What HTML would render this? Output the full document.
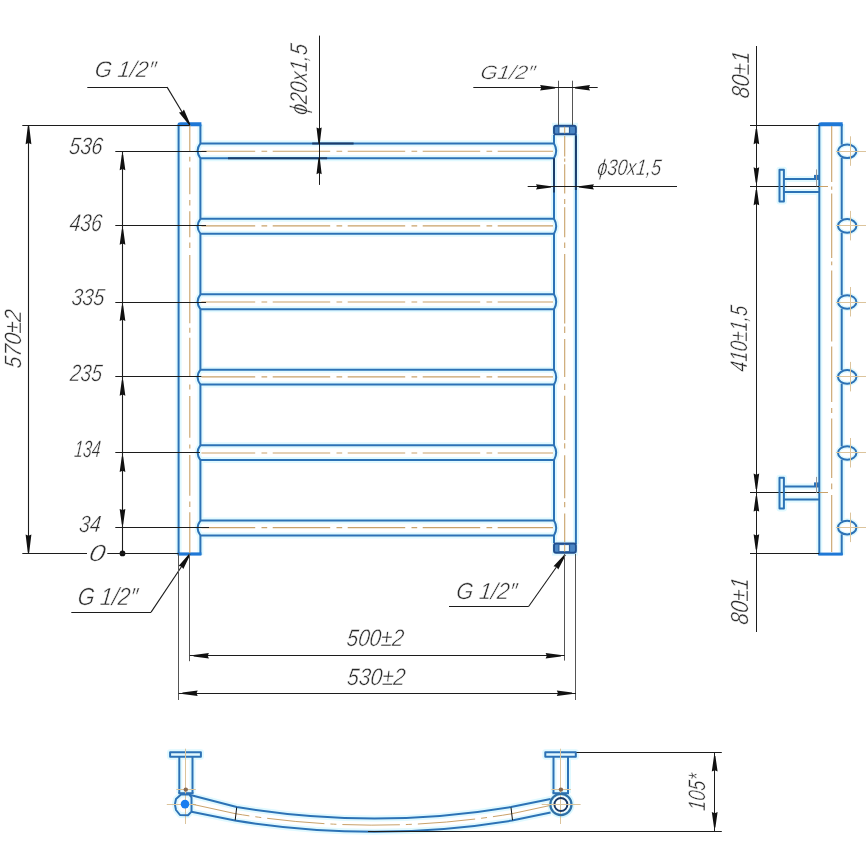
<!DOCTYPE html>
<html><head><meta charset="utf-8"><style>html,body{margin:0;padding:0;background:#fff;width:868px;height:868px;overflow:hidden}svg{display:block;will-change:transform}</style></head>
<body><svg width="868" height="868" viewBox="0 0 868 868" font-family="'Liberation Sans', sans-serif" font-style="italic" fill="#2a2a2a">
<rect width="868" height="868" fill="#ffffff"/>
<g><line x1="178.60" y1="124.50" x2="178.60" y2="555.00" stroke="#e0f9ff" stroke-width="6.0"/><path d="M200.4,124.5 L200.4,143.40 Q194.8,150.85 200.4,158.30 L200.4,218.84 Q194.8,226.29 200.4,233.74 L200.4,294.28 Q194.8,301.73 200.4,309.18 L200.4,369.72 Q194.8,377.17 200.4,384.62 L200.4,445.16 Q194.8,452.61 200.4,460.06 L200.4,520.60 Q194.8,528.05 200.4,535.50 L200.4,555" stroke="#e0f9ff" stroke-width="6.0" fill="none" stroke-linejoin="round"/><path d="M554.0,135 L554.0,143.40 Q558.4,150.85 554.0,158.30 L554.0,218.84 Q558.4,226.29 554.0,233.74 L554.0,294.28 Q558.4,301.73 554.0,309.18 L554.0,369.72 Q558.4,377.17 554.0,384.62 L554.0,445.16 Q558.4,452.61 554.0,460.06 L554.0,520.60 Q558.4,528.05 554.0,535.50 L554.0,543" stroke="#e0f9ff" stroke-width="6.0" fill="none" stroke-linejoin="round"/><line x1="575.90" y1="134.00" x2="575.90" y2="544.00" stroke="#e0f9ff" stroke-width="6.0"/><rect x="552.0" y="122.8" width="25.899999999999977" height="14.500000000000014" fill="#e0f9ff"/><rect x="552.0" y="540.6" width="25.899999999999977" height="15.0" fill="#e0f9ff"/><line x1="200.40" y1="143.40" x2="554.00" y2="143.40" stroke="#e0f9ff" stroke-width="6.0"/><line x1="200.40" y1="158.30" x2="554.00" y2="158.30" stroke="#e0f9ff" stroke-width="6.0"/><line x1="200.40" y1="218.84" x2="554.00" y2="218.84" stroke="#e0f9ff" stroke-width="6.0"/><line x1="200.40" y1="233.74" x2="554.00" y2="233.74" stroke="#e0f9ff" stroke-width="6.0"/><line x1="200.40" y1="294.28" x2="554.00" y2="294.28" stroke="#e0f9ff" stroke-width="6.0"/><line x1="200.40" y1="309.18" x2="554.00" y2="309.18" stroke="#e0f9ff" stroke-width="6.0"/><line x1="200.40" y1="369.72" x2="554.00" y2="369.72" stroke="#e0f9ff" stroke-width="6.0"/><line x1="200.40" y1="384.62" x2="554.00" y2="384.62" stroke="#e0f9ff" stroke-width="6.0"/><line x1="200.40" y1="445.16" x2="554.00" y2="445.16" stroke="#e0f9ff" stroke-width="6.0"/><line x1="200.40" y1="460.06" x2="554.00" y2="460.06" stroke="#e0f9ff" stroke-width="6.0"/><line x1="200.40" y1="520.60" x2="554.00" y2="520.60" stroke="#e0f9ff" stroke-width="6.0"/><line x1="200.40" y1="535.50" x2="554.00" y2="535.50" stroke="#e0f9ff" stroke-width="6.0"/><line x1="819.30" y1="124.00" x2="819.30" y2="555.00" stroke="#e0f9ff" stroke-width="6.0"/><path d="M841.7,124 L841.7,144.70 M841.7,157.90 L841.7,219.30 M841.7,232.50 L841.7,295.40 M841.7,308.60 L841.7,370.30 M841.7,383.50 L841.7,446.40 M841.7,459.60 L841.7,521.00 M841.7,534.20 L841.7,555" stroke="#e0f9ff" stroke-width="6.0" fill="none" stroke-linejoin="round"/><ellipse cx="847.2" cy="151.3" rx="9.2" ry="6.8" stroke="#e0f9ff" stroke-width="5" fill="none"/><ellipse cx="847.2" cy="225.9" rx="9.2" ry="6.8" stroke="#e0f9ff" stroke-width="5" fill="none"/><ellipse cx="847.2" cy="302.0" rx="9.2" ry="6.8" stroke="#e0f9ff" stroke-width="5" fill="none"/><ellipse cx="847.2" cy="376.9" rx="9.2" ry="6.8" stroke="#e0f9ff" stroke-width="5" fill="none"/><ellipse cx="847.2" cy="453.0" rx="9.2" ry="6.8" stroke="#e0f9ff" stroke-width="5" fill="none"/><ellipse cx="847.2" cy="527.6" rx="9.2" ry="6.8" stroke="#e0f9ff" stroke-width="5" fill="none"/><path d="M779.5,169.7 L783.9,169.7 L783.9,201.6 L779.5,201.6Z" stroke="#e0f9ff" stroke-width="6.0" fill="none" stroke-linejoin="round"/><line x1="783.90" y1="178.90" x2="819.30" y2="178.90" stroke="#e0f9ff" stroke-width="6.0"/><line x1="783.90" y1="192.00" x2="819.30" y2="192.00" stroke="#e0f9ff" stroke-width="6.0"/><path d="M779.5,477.7 L783.9,477.7 L783.9,508.6 L779.5,508.6Z" stroke="#e0f9ff" stroke-width="6.0" fill="none" stroke-linejoin="round"/><line x1="783.90" y1="486.40" x2="819.30" y2="486.40" stroke="#e0f9ff" stroke-width="6.0"/><line x1="783.90" y1="499.40" x2="819.30" y2="499.40" stroke="#e0f9ff" stroke-width="6.0"/><path d="M170.1,752.2 L200.9,752.2 L200.9,756.8 L170.1,756.8Z" stroke="#e0f9ff" stroke-width="6.0" fill="none" stroke-linejoin="round"/><line x1="179.30" y1="756.80" x2="179.30" y2="793.20" stroke="#e0f9ff" stroke-width="6.0"/><line x1="192.50" y1="756.80" x2="192.50" y2="793.20" stroke="#e0f9ff" stroke-width="6.0"/><line x1="178.30" y1="793.20" x2="193.50" y2="793.20" stroke="#e0f9ff" stroke-width="6.0"/><path d="M545.3,752.2 L575.8,752.2 L575.8,756.8 L545.3,756.8Z" stroke="#e0f9ff" stroke-width="6.0" fill="none" stroke-linejoin="round"/><line x1="553.50" y1="756.80" x2="553.50" y2="793.20" stroke="#e0f9ff" stroke-width="6.0"/><line x1="568.00" y1="756.80" x2="568.00" y2="793.20" stroke="#e0f9ff" stroke-width="6.0"/><line x1="552.50" y1="793.20" x2="569.00" y2="793.20" stroke="#e0f9ff" stroke-width="6.0"/><path d="M189.4,794.6 L181,794.6 L176,799 L174.9,804.4 L176,810 L180,815 L188,815.3 L191.5,811.6 L191.5,797.5 Z" stroke="#e0f9ff" stroke-width="6.0" fill="none" stroke-linejoin="round"/><circle cx="560.9" cy="804.5" r="11" stroke="#d9f7ff" stroke-width="5" fill="none"/><path d="M189.4,794.8 L236.7,807 Q375,830 511,807 L550.6,799" stroke="#e0f9ff" stroke-width="6.0" fill="none" stroke-linejoin="round"/><path d="M191.5,811.8 L235,820.6 Q375,843 512,820.6 L550.6,812.6" stroke="#e0f9ff" stroke-width="6.0" fill="none" stroke-linejoin="round"/></g>
<g><line x1="178.60" y1="124.50" x2="178.60" y2="555.00" stroke="#2c72b6" stroke-width="2.0"/><path d="M200.4,124.5 L200.4,143.40 Q194.8,150.85 200.4,158.30 L200.4,218.84 Q194.8,226.29 200.4,233.74 L200.4,294.28 Q194.8,301.73 200.4,309.18 L200.4,369.72 Q194.8,377.17 200.4,384.62 L200.4,445.16 Q194.8,452.61 200.4,460.06 L200.4,520.60 Q194.8,528.05 200.4,535.50 L200.4,555" stroke="#2c72b6" stroke-width="2.0" fill="none" stroke-linejoin="round"/><path d="M177.6,127 L177.6,124.5 Q177.6,122.3 180.6,122.3 L201.4,122.3 L201.4,126.2 L177.6,126.2Z" fill="#1f78d6"/><rect x="177.6" y="552.4" width="23.80000000000001" height="3.2" fill="#1f78d6"/><path d="M189.8,125 V152 M189.8,167.6 V194.2 M189.8,211.3 V237.3 M189.8,255 V323.2 M189.8,337.7 V377 M189.8,395.9 V437.7 M189.8,455.1 V495.7 M189.8,512.2 V553 M189.8,156.8 V161.6 M189.8,200 V205.6 M189.8,242.4 V248.1 M189.8,327.7 V332.7 M189.8,384.5 V389.6 M189.8,444.4 V448.4 M189.8,501.4 V507.1" stroke="#c9a26a" stroke-width="1.1" fill="none"/><path d="M554.0,135 L554.0,143.40 Q558.4,150.85 554.0,158.30 L554.0,218.84 Q558.4,226.29 554.0,233.74 L554.0,294.28 Q558.4,301.73 554.0,309.18 L554.0,369.72 Q558.4,377.17 554.0,384.62 L554.0,445.16 Q558.4,452.61 554.0,460.06 L554.0,520.60 Q558.4,528.05 554.0,535.50 L554.0,543" stroke="#2c72b6" stroke-width="2.0" fill="none" stroke-linejoin="round"/><line x1="575.90" y1="134.00" x2="575.90" y2="544.00" stroke="#2c72b6" stroke-width="2.0"/><path d="M564.7,136 V156.6 M564.7,158.5 V161.7 M564.7,164.2 V193.4 M564.7,199 V204 M564.7,207.3 V237.3 M564.7,242.4 V248.1 M564.7,254 V323.5 M564.7,326.5 V333 M564.7,339 V377 M564.7,383.7 V390 M564.7,395.8 V440 M564.7,443.3 V448.4 M564.7,455.2 V498.3 M564.7,502.1 V507.2 M564.7,513.5 V542" stroke="#c9a26a" stroke-width="1.1" fill="none"/><rect x="554.0" y="125.7" width="21.899999999999977" height="8.700000000000014" rx="2" fill="#4a86c4" stroke="#1f4f8f" stroke-width="1.9"/><rect x="558.9" y="126.7" width="10.6" height="6.700000000000014" fill="#f2fdff" stroke="#2a5f9f" stroke-width="1.2"/><line x1="564.7" y1="126.7" x2="564.7" y2="133.4" stroke="#c9a26a" stroke-width="1"/><rect x="554.0" y="543.5" width="21.899999999999977" height="9.2" rx="2" fill="#4a86c4" stroke="#1f4f8f" stroke-width="1.9"/><rect x="558.9" y="544.5" width="10.6" height="7.2" fill="#f2fdff" stroke="#2a5f9f" stroke-width="1.2"/><line x1="564.7" y1="544.5" x2="564.7" y2="551.7" stroke="#c9a26a" stroke-width="1"/><line x1="200.40" y1="143.40" x2="554.00" y2="143.40" stroke="#2c72b6" stroke-width="2.0"/><line x1="200.40" y1="158.30" x2="554.00" y2="158.30" stroke="#2c72b6" stroke-width="2.0"/><line x1="201.40" y1="151.30" x2="553.00" y2="151.30" stroke="#c9a26a" stroke-width="1.1" stroke-dasharray="57.5 6.3 5.7 5.5" stroke-dashoffset="3.70"/><line x1="200.40" y1="218.84" x2="554.00" y2="218.84" stroke="#2c72b6" stroke-width="2.0"/><line x1="200.40" y1="233.74" x2="554.00" y2="233.74" stroke="#2c72b6" stroke-width="2.0"/><line x1="201.40" y1="225.90" x2="553.00" y2="225.90" stroke="#c9a26a" stroke-width="1.1" stroke-dasharray="57.5 6.3 5.7 5.5" stroke-dashoffset="3.70"/><line x1="200.40" y1="294.28" x2="554.00" y2="294.28" stroke="#2c72b6" stroke-width="2.0"/><line x1="200.40" y1="309.18" x2="554.00" y2="309.18" stroke="#2c72b6" stroke-width="2.0"/><line x1="201.40" y1="302.00" x2="553.00" y2="302.00" stroke="#c9a26a" stroke-width="1.1" stroke-dasharray="57.5 6.3 5.7 5.5" stroke-dashoffset="3.70"/><line x1="200.40" y1="369.72" x2="554.00" y2="369.72" stroke="#2c72b6" stroke-width="2.0"/><line x1="200.40" y1="384.62" x2="554.00" y2="384.62" stroke="#2c72b6" stroke-width="2.0"/><line x1="201.40" y1="376.90" x2="553.00" y2="376.90" stroke="#c9a26a" stroke-width="1.1" stroke-dasharray="57.5 6.3 5.7 5.5" stroke-dashoffset="3.70"/><line x1="200.40" y1="445.16" x2="554.00" y2="445.16" stroke="#2c72b6" stroke-width="2.0"/><line x1="200.40" y1="460.06" x2="554.00" y2="460.06" stroke="#2c72b6" stroke-width="2.0"/><line x1="201.40" y1="453.00" x2="553.00" y2="453.00" stroke="#c9a26a" stroke-width="1.1" stroke-dasharray="57.5 6.3 5.7 5.5" stroke-dashoffset="3.70"/><line x1="200.40" y1="520.60" x2="554.00" y2="520.60" stroke="#2c72b6" stroke-width="2.0"/><line x1="200.40" y1="535.50" x2="554.00" y2="535.50" stroke="#2c72b6" stroke-width="2.0"/><line x1="201.40" y1="527.60" x2="553.00" y2="527.60" stroke="#c9a26a" stroke-width="1.1" stroke-dasharray="57.5 6.3 5.7 5.5" stroke-dashoffset="3.70"/><line x1="312.20" y1="143.40" x2="353.60" y2="143.40" stroke="#1a3d6b" stroke-width="2.0" /><line x1="228.00" y1="158.30" x2="327.10" y2="158.30" stroke="#1a3d6b" stroke-width="2.0" /><line x1="554.00" y1="158.30" x2="554.00" y2="192.60" stroke="#1a3d6b" stroke-width="2.0" /><line x1="575.90" y1="135.50" x2="575.90" y2="190.00" stroke="#1a3d6b" stroke-width="2.0" /><line x1="122.50" y1="151.30" x2="122.50" y2="553.40" stroke="#1c1c1c" stroke-width="1.1" /><line x1="115.30" y1="151.50" x2="206.50" y2="151.50" stroke="#1c1c1c" stroke-width="1.0" /><line x1="115.30" y1="225.50" x2="206.00" y2="225.50" stroke="#1c1c1c" stroke-width="1.0" /><line x1="115.30" y1="302.50" x2="206.00" y2="302.50" stroke="#1c1c1c" stroke-width="1.0" /><line x1="115.30" y1="376.50" x2="201.40" y2="376.50" stroke="#1c1c1c" stroke-width="1.0" /><line x1="115.30" y1="452.50" x2="200.00" y2="452.50" stroke="#1c1c1c" stroke-width="1.0" /><line x1="115.30" y1="527.50" x2="209.00" y2="527.50" stroke="#1c1c1c" stroke-width="1.0" /><polygon points="123.20,154.70 125.35,170.20 122.50,169.00 119.65,170.20 121.80,154.70" fill="#111"/><polygon points="123.20,229.30 125.35,244.80 122.50,243.60 119.65,244.80 121.80,229.30" fill="#111"/><polygon points="123.20,305.40 125.35,320.90 122.50,319.70 119.65,320.90 121.80,305.40" fill="#111"/><polygon points="123.20,380.30 125.35,395.80 122.50,394.60 119.65,395.80 121.80,380.30" fill="#111"/><polygon points="123.20,456.40 125.35,471.90 122.50,470.70 119.65,471.90 121.80,456.40" fill="#111"/><polygon points="121.80,524.40 119.65,508.90 122.50,510.10 125.35,508.90 123.20,524.40" fill="#111"/><circle cx="122.5" cy="553.4" r="2.9" fill="#111"/><line x1="22.30" y1="553.50" x2="87.00" y2="553.50" stroke="#1c1c1c" stroke-width="1.1" /><line x1="107.30" y1="553.50" x2="178.60" y2="553.50" stroke="#1c1c1c" stroke-width="1.1" /><line x1="22.30" y1="125.50" x2="189.80" y2="125.50" stroke="#1c1c1c" stroke-width="1.1" /><line x1="28.50" y1="125.40" x2="28.50" y2="553.40" stroke="#1c1c1c" stroke-width="1.1" /><polygon points="29.20,126.20 31.40,144.20 28.50,143.00 25.60,144.20 27.80,126.20" fill="#111"/><polygon points="27.80,552.60 25.60,534.60 28.50,535.80 31.40,534.60 29.20,552.60" fill="#111"/><text transform="translate(68.60,154.25) scale(0.846,1) skewX(-8)" font-size="23.57" stroke="#fff" stroke-width="0.45">536</text><text transform="translate(69.01,230.55) scale(0.792,1) skewX(-8)" font-size="24.29" stroke="#fff" stroke-width="0.45">436</text><text transform="translate(70.91,305.30) scale(0.844,1) skewX(-8)" font-size="23.29" stroke="#fff" stroke-width="0.45">335</text><text transform="translate(69.50,380.62) scale(0.807,1) skewX(-8)" font-size="23.57" stroke="#fff" stroke-width="0.45">235</text><text transform="translate(73.78,456.75) scale(0.666,1) skewX(-8)" font-size="23.57" stroke="#fff" stroke-width="0.45">134</text><text transform="translate(78.51,531.60) scale(0.833,1) skewX(-8)" font-size="23.43" stroke="#fff" stroke-width="0.45">34</text><text transform="translate(87.94,561.20) scale(1.258,1) skewX(-8)" font-size="23.14" stroke="#fff" stroke-width="0.45">0</text><text transform="translate(20.75,368.92) rotate(-90) scale(0.894,1) skewX(-8)" font-size="23.57" stroke="#fff" stroke-width="0.45">570±2</text><line x1="87.30" y1="87.50" x2="167.10" y2="87.50" stroke="#1c1c1c" stroke-width="1.1" /><line x1="167.10" y1="87.10" x2="189.70" y2="124.70" stroke="#1c1c1c" stroke-width="1.1" /><polygon points="189.10,125.06 178.97,112.48 182.08,112.02 183.94,109.49 190.30,124.34" fill="#111"/><text transform="translate(94.01,77.45) scale(0.963,1) skewX(-8)" font-size="22.71" stroke="#fff" stroke-width="0.45">G 1/2″</text><line x1="71.30" y1="612.50" x2="151.10" y2="612.50" stroke="#1c1c1c" stroke-width="1.1" /><line x1="151.10" y1="612.10" x2="189.80" y2="554.20" stroke="#1c1c1c" stroke-width="1.1" /><polygon points="190.38,554.59 183.32,569.11 181.58,566.50 178.50,565.89 189.22,553.81" fill="#111"/><text transform="translate(76.93,604.75) scale(0.866,1) skewX(-8)" font-size="24.71" stroke="#fff" stroke-width="0.45">G 1/2″</text><line x1="449.00" y1="606.50" x2="528.80" y2="606.50" stroke="#1c1c1c" stroke-width="1.1" /><line x1="528.80" y1="606.20" x2="565.10" y2="554.80" stroke="#1c1c1c" stroke-width="1.1" /><polygon points="565.67,555.20 558.24,569.54 556.56,566.89 553.50,566.20 564.53,554.40" fill="#111"/><text transform="translate(455.62,598.50) scale(0.935,1) skewX(-8)" font-size="23.14" stroke="#fff" stroke-width="0.45">G 1/2″</text><line x1="558.50" y1="80.70" x2="558.50" y2="125.00" stroke="#555555" stroke-width="1.0" /><line x1="572.50" y1="80.70" x2="572.50" y2="125.00" stroke="#555555" stroke-width="1.0" /><line x1="473.30" y1="87.50" x2="597.70" y2="87.50" stroke="#1c1c1c" stroke-width="1.0" /><polygon points="555.10,88.40 540.10,90.40 541.30,87.70 540.10,85.00 555.10,87.00" fill="#111"/><polygon points="575.00,87.00 590.00,85.00 588.80,87.70 590.00,90.40 575.00,88.40" fill="#111"/><text transform="translate(479.81,79.30) scale(1.117,1) skewX(-8)" font-size="19.43" stroke="#fff" stroke-width="0.45">G1/2″</text><line x1="527.70" y1="186.50" x2="677.00" y2="186.50" stroke="#1c1c1c" stroke-width="1.0" /><polygon points="551.00,187.60 536.00,189.60 537.20,186.90 536.00,184.20 551.00,186.20" fill="#111"/><polygon points="578.90,186.20 593.90,184.20 592.70,186.90 593.90,189.60 578.90,187.60" fill="#111"/><text transform="translate(596.66,174.90) scale(0.796,1) skewX(-8)" font-size="22.57" stroke="#fff" stroke-width="0.45">ϕ30x1,5</text><line x1="319.50" y1="35.60" x2="319.50" y2="184.90" stroke="#1c1c1c" stroke-width="1.0" /><polygon points="318.40,143.40 316.50,127.40 319.10,128.60 321.70,127.40 319.80,143.40" fill="#111"/><polygon points="319.80,158.30 321.70,174.30 319.10,173.10 316.50,174.30 318.40,158.30" fill="#111"/><text transform="translate(307.10,115.60) rotate(-90) scale(0.822,1) skewX(-8)" font-size="24.29" stroke="#fff" stroke-width="0.45">ϕ20x1,5</text><line x1="189.50" y1="554.00" x2="189.50" y2="661.20" stroke="#555555" stroke-width="1.0" /><line x1="178.50" y1="554.00" x2="178.50" y2="700.00" stroke="#555555" stroke-width="1.0" /><line x1="564.50" y1="554.00" x2="564.50" y2="660.60" stroke="#555555" stroke-width="1.0" /><line x1="575.50" y1="554.00" x2="575.50" y2="700.00" stroke="#555555" stroke-width="1.0" /><line x1="189.80" y1="655.50" x2="564.70" y2="655.50" stroke="#1c1c1c" stroke-width="1.0" /><polygon points="193.60,655.10 208.90,653.00 207.70,655.80 208.90,658.60 193.60,656.50" fill="#111"/><polygon points="560.90,656.50 545.60,658.60 546.80,655.80 545.60,653.00 560.90,655.10" fill="#111"/><line x1="178.60" y1="693.50" x2="575.90" y2="693.50" stroke="#1c1c1c" stroke-width="1.0" /><polygon points="182.40,692.60 197.70,690.50 196.50,693.30 197.70,696.10 182.40,694.00" fill="#111"/><polygon points="572.10,694.00 556.80,696.10 558.00,693.30 556.80,690.50 572.10,692.60" fill="#111"/><text transform="translate(345.99,646.05) scale(0.862,1) skewX(-8)" font-size="23.86" stroke="#fff" stroke-width="0.45">500±2</text><text transform="translate(346.58,685.15) scale(0.875,1) skewX(-8)" font-size="23.86" stroke="#fff" stroke-width="0.45">530±2</text><line x1="819.30" y1="124.00" x2="819.30" y2="555.00" stroke="#2c72b6" stroke-width="2.0"/><path d="M841.7,124 L841.7,144.70 M841.7,157.90 L841.7,219.30 M841.7,232.50 L841.7,295.40 M841.7,308.60 L841.7,370.30 M841.7,383.50 L841.7,446.40 M841.7,459.60 L841.7,521.00 M841.7,534.20 L841.7,555" stroke="#2c72b6" stroke-width="2.0" fill="none" stroke-linejoin="round"/><path d="M818.3,126.2 L818.3,124.3 Q818.3,122.2 821.3,122.2 L842.7,122.2 L842.7,126.2Z" fill="#1f78d6"/><rect x="818.3" y="552.6" width="24.40000000000009" height="3" fill="#1f78d6"/><path d="M831.7,126 V182 M831.7,186.4 V189.7 M831.7,193.5 V258 M831.7,261.5 V265.3 M831.7,270.4 V341.4 M831.7,346.5 V402 M831.7,408 V413 M831.7,418.5 V477.9 M831.7,483.6 V489.3 M831.7,495 V552" stroke="#c9a26a" stroke-width="1.1" fill="none"/><ellipse cx="847.2" cy="151.3" rx="9.2" ry="6.8" stroke="#2c72b6" stroke-width="2" fill="none"/><line x1="836.00" y1="151.50" x2="866.00" y2="151.50" stroke="#dcc49c" stroke-width="1.0" /><line x1="850.50" y1="136.30" x2="850.50" y2="165.80" stroke="#dcc49c" stroke-width="1.0" /><ellipse cx="847.2" cy="225.9" rx="9.2" ry="6.8" stroke="#2c72b6" stroke-width="2" fill="none"/><line x1="836.00" y1="225.50" x2="866.00" y2="225.50" stroke="#dcc49c" stroke-width="1.0" /><line x1="850.50" y1="210.90" x2="850.50" y2="240.40" stroke="#dcc49c" stroke-width="1.0" /><ellipse cx="847.2" cy="302.0" rx="9.2" ry="6.8" stroke="#2c72b6" stroke-width="2" fill="none"/><line x1="836.00" y1="302.50" x2="866.00" y2="302.50" stroke="#dcc49c" stroke-width="1.0" /><line x1="850.50" y1="287.00" x2="850.50" y2="316.50" stroke="#dcc49c" stroke-width="1.0" /><ellipse cx="847.2" cy="376.9" rx="9.2" ry="6.8" stroke="#2c72b6" stroke-width="2" fill="none"/><line x1="836.00" y1="376.50" x2="866.00" y2="376.50" stroke="#dcc49c" stroke-width="1.0" /><line x1="850.50" y1="361.90" x2="850.50" y2="391.40" stroke="#dcc49c" stroke-width="1.0" /><ellipse cx="847.2" cy="453.0" rx="9.2" ry="6.8" stroke="#2c72b6" stroke-width="2" fill="none"/><line x1="836.00" y1="452.50" x2="866.00" y2="452.50" stroke="#dcc49c" stroke-width="1.0" /><line x1="850.50" y1="438.00" x2="850.50" y2="467.50" stroke="#dcc49c" stroke-width="1.0" /><ellipse cx="847.2" cy="527.6" rx="9.2" ry="6.8" stroke="#2c72b6" stroke-width="2" fill="none"/><line x1="836.00" y1="527.50" x2="866.00" y2="527.50" stroke="#dcc49c" stroke-width="1.0" /><line x1="850.50" y1="512.60" x2="850.50" y2="542.10" stroke="#dcc49c" stroke-width="1.0" /><line x1="756.50" y1="46.00" x2="756.50" y2="632.00" stroke="#1c1c1c" stroke-width="1.0" /><line x1="750.00" y1="125.50" x2="819.30" y2="125.50" stroke="#1c1c1c" stroke-width="1.0" /><line x1="750.00" y1="186.50" x2="819.30" y2="186.50" stroke="#1c1c1c" stroke-width="1.0" /><line x1="750.00" y1="492.50" x2="819.30" y2="492.50" stroke="#1c1c1c" stroke-width="1.0" /><line x1="750.00" y1="553.50" x2="819.30" y2="553.50" stroke="#1c1c1c" stroke-width="1.0" /><line x1="819.30" y1="186.50" x2="828.00" y2="186.50" stroke="#c9a26a" stroke-width="1.0" /><line x1="819.30" y1="492.50" x2="828.00" y2="492.50" stroke="#c9a26a" stroke-width="1.0" /><polygon points="757.10,129.00 759.20,144.30 756.40,143.10 753.60,144.30 755.70,129.00" fill="#111"/><polygon points="755.70,182.50 753.60,167.20 756.40,168.40 759.20,167.20 757.10,182.50" fill="#111"/><polygon points="757.10,189.90 759.20,205.20 756.40,204.00 753.60,205.20 755.70,189.90" fill="#111"/><polygon points="755.70,488.90 753.60,473.60 756.40,474.80 759.20,473.60 757.10,488.90" fill="#111"/><polygon points="757.10,496.30 759.20,511.60 756.40,510.40 753.60,511.60 755.70,496.30" fill="#111"/><polygon points="755.70,549.60 753.60,534.30 756.40,535.50 759.20,534.30 757.10,549.60" fill="#111"/><text transform="translate(748.70,98.93) rotate(-90) scale(0.855,1) skewX(-8)" font-size="24.71" stroke="#fff" stroke-width="0.45">80±1</text><text transform="translate(746.50,372.18) rotate(-90) scale(0.756,1) skewX(-8)" font-size="24.14" stroke="#fff" stroke-width="0.45">410±1,5</text><text transform="translate(748.30,625.13) rotate(-90) scale(0.849,1) skewX(-8)" font-size="24.71" stroke="#fff" stroke-width="0.45">80±1</text><path d="M779.5,169.7 L783.9,169.7 L783.9,201.6 L779.5,201.6Z" stroke="#2c72b6" stroke-width="2.0" fill="none" stroke-linejoin="round"/><line x1="783.90" y1="178.90" x2="819.30" y2="178.90" stroke="#2c72b6" stroke-width="2.0"/><line x1="783.90" y1="192.00" x2="819.30" y2="192.00" stroke="#2c72b6" stroke-width="2.0"/><rect x="814" y="174.9" width="5" height="4" fill="#2c72b6"/><line x1="816.50" y1="169.40" x2="816.50" y2="186.30" stroke="#999" stroke-width="1.0" /><path d="M779.5,477.7 L783.9,477.7 L783.9,508.6 L779.5,508.6Z" stroke="#2c72b6" stroke-width="2.0" fill="none" stroke-linejoin="round"/><line x1="783.90" y1="486.40" x2="819.30" y2="486.40" stroke="#2c72b6" stroke-width="2.0"/><line x1="783.90" y1="499.40" x2="819.30" y2="499.40" stroke="#2c72b6" stroke-width="2.0"/><rect x="814" y="482.4" width="5" height="4" fill="#2c72b6"/><line x1="816.50" y1="476.90" x2="816.50" y2="492.90" stroke="#999" stroke-width="1.0" /><path d="M170.1,752.2 L200.9,752.2 L200.9,756.8 L170.1,756.8Z" stroke="#2c72b6" stroke-width="2.0" fill="none" stroke-linejoin="round"/><line x1="179.30" y1="756.80" x2="179.30" y2="793.20" stroke="#2c72b6" stroke-width="2.0"/><line x1="192.50" y1="756.80" x2="192.50" y2="793.20" stroke="#2c72b6" stroke-width="2.0"/><line x1="178.30" y1="793.20" x2="193.50" y2="793.20" stroke="#2c72b6" stroke-width="2.0"/><line x1="185.50" y1="748.70" x2="185.50" y2="824.00" stroke="#dcc49c" stroke-width="1.0" /><line x1="176.30" y1="789.50" x2="195.80" y2="789.50" stroke="#dcc49c" stroke-width="1.0" /><circle cx="185.8" cy="789.6" r="2.2" fill="#8a6a50"/><path d="M545.3,752.2 L575.8,752.2 L575.8,756.8 L545.3,756.8Z" stroke="#2c72b6" stroke-width="2.0" fill="none" stroke-linejoin="round"/><line x1="553.50" y1="756.80" x2="553.50" y2="793.20" stroke="#2c72b6" stroke-width="2.0"/><line x1="568.00" y1="756.80" x2="568.00" y2="793.20" stroke="#2c72b6" stroke-width="2.0"/><line x1="552.50" y1="793.20" x2="569.00" y2="793.20" stroke="#2c72b6" stroke-width="2.0"/><line x1="560.50" y1="748.70" x2="560.50" y2="824.00" stroke="#dcc49c" stroke-width="1.0" /><line x1="551.40" y1="789.50" x2="570.90" y2="789.50" stroke="#dcc49c" stroke-width="1.0" /><circle cx="560.9" cy="789.6" r="2.2" fill="#8a6a50"/><path d="M189.4,794.6 L181,794.6 L176,799 L174.9,804.4 L176,810 L180,815 L188,815.3 L191.5,811.6 L191.5,797.5 Z" stroke="#2c72b6" stroke-width="2.0" fill="none" stroke-linejoin="round"/><line x1="166.80" y1="804.50" x2="196.00" y2="804.50" stroke="#dcc49c" stroke-width="1.0" /><circle cx="185" cy="804.1" r="4.3" fill="#1a7ef0"/><circle cx="560.9" cy="804.5" r="10.6" stroke="#2f6fa6" stroke-width="2.2" fill="none"/><circle cx="560.9" cy="804.5" r="6.5" stroke="#1b3a66" stroke-width="2" fill="none"/><line x1="541.70" y1="804.50" x2="580.60" y2="804.50" stroke="#dcc49c" stroke-width="1.0" /><path d="M189.4,794.8 L236.7,807 Q375,830 511,807 L550.6,799" stroke="#2c72b6" stroke-width="2.0" fill="none" stroke-linejoin="round"/><path d="M191.5,811.8 L235,820.6 Q375,843 512,820.6 L550.6,812.6" stroke="#2c72b6" stroke-width="2.0" fill="none" stroke-linejoin="round"/><path d="M193,804.4 L236,813.8 Q375,836.5 511.5,813.8 L550,805.5" stroke="#c9a26a" stroke-width="1" fill="none" stroke-dasharray="57.5 6 6 6"/><line x1="236.70" y1="807.50" x2="235.20" y2="820.20" stroke="#111" stroke-width="1.0" /><line x1="511.00" y1="807.50" x2="512.50" y2="820.20" stroke="#111" stroke-width="1.0" /><line x1="576.50" y1="752.50" x2="721.80" y2="752.50" stroke="#1c1c1c" stroke-width="1.0" /><line x1="368.00" y1="831.50" x2="721.80" y2="831.50" stroke="#1c1c1c" stroke-width="1.0" /><line x1="714.50" y1="752.90" x2="714.50" y2="831.20" stroke="#1c1c1c" stroke-width="1.0" /><polygon points="715.40,756.00 717.60,771.50 714.70,770.30 711.80,771.50 714.00,756.00" fill="#111"/><polygon points="714.00,827.60 711.80,812.10 714.70,813.30 717.60,812.10 715.40,827.60" fill="#111"/><text transform="translate(704.85,811.14) rotate(-90) scale(0.751,1) skewX(-8)" font-size="23.86" stroke="#fff" stroke-width="0.45">105*</text></g>
</svg></body></html>
